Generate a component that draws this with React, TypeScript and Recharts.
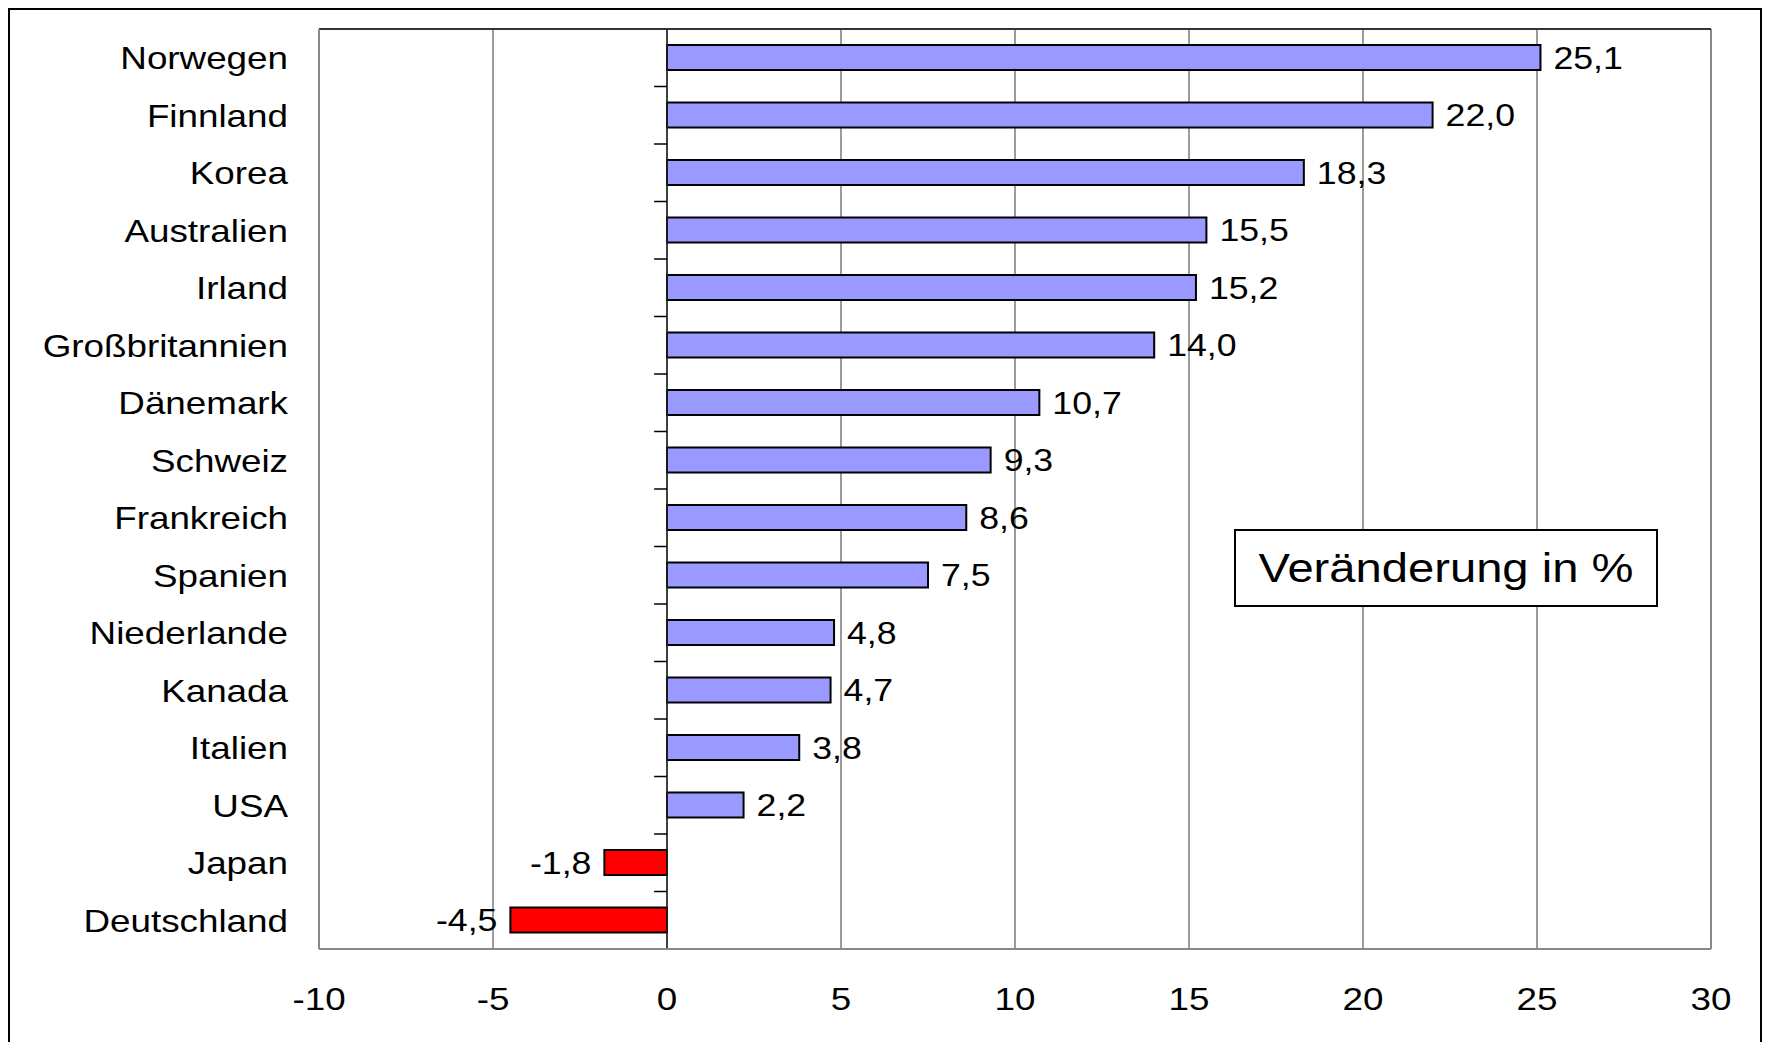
import React from 'react';
import { BarChart, Bar, XAxis, YAxis, CartesianGrid, Cell, LabelList, ReferenceLine } from 'recharts';

// Länder und Veränderung in %
const countries = [
    'Norwegen', 'Finnland', 'Korea', 'Australien', 'Irland', 'Großbritannien', 'Dänemark', 'Schweiz',
    'Frankreich', 'Spanien', 'Niederlande', 'Kanada', 'Italien', 'USA', 'Japan', 'Deutschland',
];
const changes = [25.1, 22.0, 18.3, 15.5, 15.2, 14.0, 10.7, 9.3, 8.6, 7.5, 4.8, 4.7, 3.8, 2.2, -1.8, -4.5];
const xTicks = [-10, -5, 0, 5, 10, 15, 20, 25, 30];

const data = countries.map((name, i) => ({ name, value: changes[i] }));

const FONT = '"Liberation Sans", Arial, sans-serif';
const STRETCH = 1.15; // Originalschrift ist leicht in die Breite gezogen
const GRAY = '#888';
const first = countries[0];
const last = countries[countries.length - 1];

const fmt = (v: number) => v.toFixed(1).replace('.', ',');

const CategoryTick = ({ x, y, payload }: any) => (
    <text transform={`translate(${x},${y}) scale(${STRETCH},1)`} textAnchor="end" dy="0.36em"
        fontFamily={FONT} fontSize={32} fill="#000">
        {payload.value}
    </text>
);

const NumberTick = ({ x, y, payload }: any) => (
    <text transform={`translate(${x},${y}) scale(${STRETCH},1)`} textAnchor="middle" dy="0.71em"
        fontFamily={FONT} fontSize={32} fill="#000">
        {payload.value}
    </text>
);

const ValueLabel = ({ x, y, width, height, value }: any) => {
    const left = Math.min(x, x + width);
    const right = Math.max(x, x + width);
    const neg = value < 0;
    const tx = neg ? left - 13 : right + 13;
    return (
        <text transform={`translate(${tx},${y + height / 2}) scale(${STRETCH},1)`} textAnchor={neg ? 'end' : 'start'}
            dy="0.36em" fontFamily={FONT} fontSize={31} fill="#000">
            {fmt(value)}
        </text>
    );
};

export default function App() {
    return (
        <div style={{
            position: 'fixed', left: 8, top: 8, width: 1750, height: 1050, overflow: 'hidden', background: '#fff',
            border: '2px solid #000',
        }}>
            <BarChart width={1750} height={1016} data={data} layout="vertical"
                margin={{ top: 19, right: 49, bottom: 17, left: 0 }} barSize={25}>
                <CartesianGrid yAxisId="cat" horizontal={false} vertical={true} stroke="#666" strokeWidth={1.3} />
                <XAxis type="number" domain={[-10, 30]} ticks={xTicks} interval={0}
                    axisLine={{ stroke: GRAY, strokeWidth: 2 }} tickLine={false} tickSize={0} tickMargin={38}
                    height={60} tick={<NumberTick />} />
                <YAxis yAxisId="cat" type="category" dataKey="name" width={309}
                    axisLine={{ stroke: GRAY, strokeWidth: 2 }} tickLine={false} tickSize={0} tickMargin={31}
                    interval={0} tick={<CategoryTick />} />
                <ReferenceLine yAxisId="cat" x={30} stroke={GRAY} strokeWidth={2} />
                <ReferenceLine yAxisId="cat" position="start" segment={[{ x: -10, y: first }, { x: 30, y: first }]}
                    stroke="#333" strokeWidth={2} />
                <ReferenceLine yAxisId="cat" x={0} stroke="#222" strokeWidth={1.5} />
                {/* Teilstriche zwischen den Kategorien an der Nulllinie */}
                {countries.slice(1).map((c) => (
                    <ReferenceLine key={c} yAxisId="cat" position="start"
                        segment={[{ x: -0.37, y: c }, { x: 0, y: c }]} stroke="#000" strokeWidth={1.5} />
                ))}
                <ReferenceLine yAxisId="cat" position="end" segment={[{ x: -0.37, y: last }, { x: 0, y: last }]}
                    stroke="#000" strokeWidth={1.5} />
                <Bar yAxisId="cat" dataKey="value" stroke="#000" strokeWidth={2} isAnimationActive={false}>
                    {data.map((d) => (
                        <Cell key={d.name} fill={d.value < 0 ? '#FF0000' : '#9999FF'} />
                    ))}
                    <LabelList dataKey="value" content={<ValueLabel />} />
                </Bar>
            </BarChart>
            {/* Beschriftungskasten */}
            <div style={{
                position: 'absolute', left: 1224, top: 519, width: 420, height: 74, border: '2px solid #000',
                background: '#fff', display: 'flex', alignItems: 'center', justifyContent: 'center',
                fontFamily: FONT, fontSize: 41, color: '#000', whiteSpace: 'nowrap',
            }}>
                <span style={{ display: 'inline-block', transform: `scaleX(${STRETCH})` }}>Veränderung in %</span>
            </div>
        </div>
    );
}
